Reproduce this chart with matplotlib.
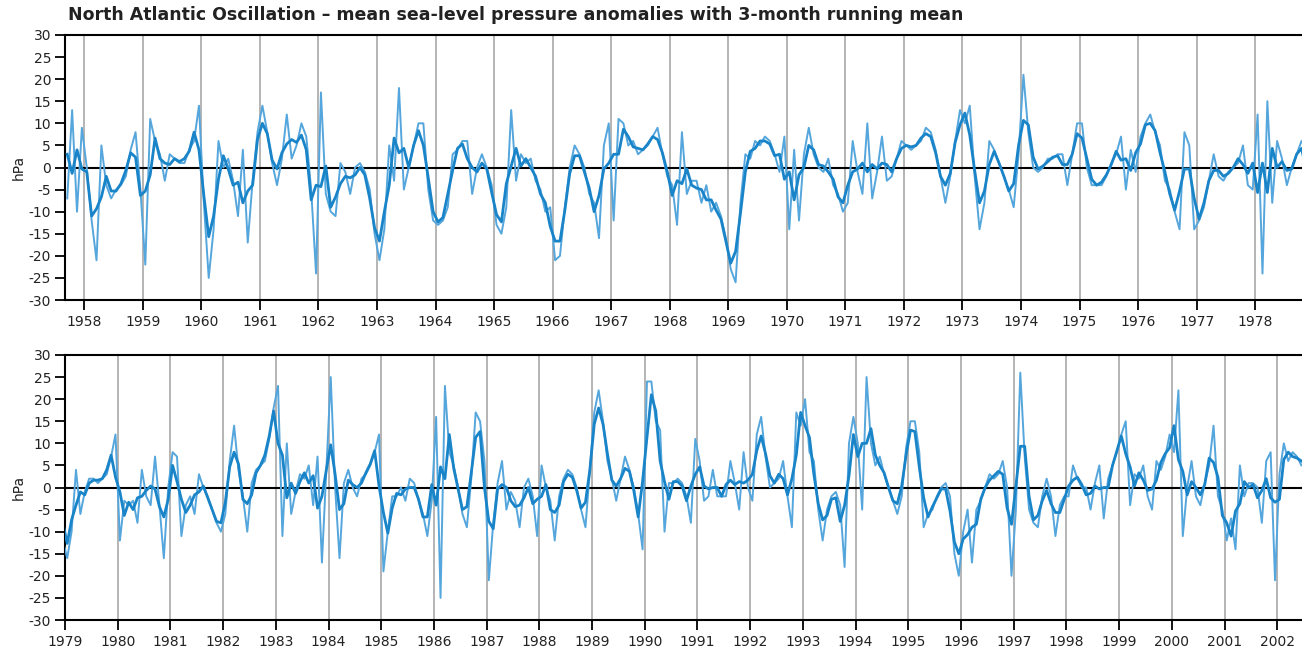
import numpy as np
import pandas as pd
import matplotlib
matplotlib.use("Agg")
import matplotlib.pyplot as plt

plt.rcParams['font.family'] = ['DejaVu Sans']
plt.rcParams['axes.unicode_minus'] = False

# Monthly NAO pressure anomalies (hPa)
# top panel: Sep 1957 .. Dec 1978, one row per year
nao_1957_1978 = [
    -7, 13, -10, 9,                                   # 1957 Sep-Dec
    0, -12, -21, 5, -4, -7, -5, -4, -2, 4, 8, -5,     # 1958
    -22, 11, 6, 3, -3, 3, 2, 1, 1, 4, 6, 14,          # 1959
    -8, -25, -14, 6, 0, 2, -3, -11, 4, -17, -3, 8,    # 1960
    14, 8, 1, -4, 2, 12, 2, 5, 10, 7, -5, -24,        # 1961
    17, -6, -10, -11, 1, -1, -6, 0, 1, -1, -5, -15,   # 1962
    -21, -14, 5, -3, 18, -5, 0, 5, 10, 10, -5, -12,   # 1963
    -13, -12, -9, 3, 4, 6, 6, -6, 0, 3, 0, -4,        # 1964
    -13, -15, -9, 13, -3, 3, 1, 2, -3, -5, -10, -9,   # 1965
    -21, -20, -9, 0, 5, 3, 0, -6, -8, -16, 5, 10,     # 1966
    -12, 11, 10, 5, 6, 3, 4, 5, 7, 9, 3, -2,          # 1967
    -4, -13, 8, -6, -3, -3, -8, -4, -10, -8, -11, -16,  # 1968
    -23, -26, -8, 3, 2, 6, 5, 7, 6, 3, -1, 7,         # 1969
    -14, 4, -12, 3, 9, 3, 0, -1, 2, -4, -6, -10,      # 1970
    -8, 6, -1, -6, 10, -7, -1, 7, -3, -2, 2, 6,       # 1971
    5, 4, 5, 6, 9, 8, 4, -2, -8, -2, 6, 13,           # 1972
    10, 14, -2, -14, -8, 6, 4, 1, -2, -5, -9, 3,      # 1973
    21, 8, 0, -1, 0, 2, 2, 3, 3, -4, 3, 10,           # 1974
    10, 0, -4, -4, -4, -2, 1, 3, 7, -5, 4, -1,        # 1975
    7, 10, 12, 8, 5, -3, -5, -10, -14, 8, 5, -14,     # 1976
    -12, -9, -3, 3, -2, -3, -1, 0, 1, 5, -4, -5,      # 1977
    12, -24, 15, -8, 6, 2, -4, 0, 3, 6, 4, -12,       # 1978
]

# bottom panel: Jan 1979 .. Jun 2002
nao_1979_2002 = [
    -16, -10, 4, -6, -1, 2, 2, 1, 2, 3, 7, 12,        # 1979
    -12, -3, -4, -3, -8, 4, -2, -4, 7, -4, -16, 0,    # 1980
    8, 7, -11, -4, -2, -6, 3, 0, -2, -5, -8, -10,     # 1981
    -6, 6, 14, 4, -2, -10, 1, 4, 5, 6, 11, 18,        # 1982
    23, -11, 10, -6, -1, 3, 2, 5, -4, 7, -17, 4,      # 1983
    25, 0, -16, 1, 4, 0, -2, 2, 3, 5, 8, 12,          # 1984
    -19, -10, -2, -2, 0, -3, 2, 1, -3, -6, -11, -3,   # 1985
    16, -25, 23, 8, 5, 0, -6, -9, 2, 17, 15, 6,       # 1986
    -21, -8, 1, 6, -5, -1, -3, -9, 0, 2, -2, -11,     # 1987
    5, 0, -3, -12, -2, 2, 4, 3, 0, -5, -9, 4,         # 1988
    17, 22, 15, 6, 2, -3, 2, 7, 4, 0, -6, -14,        # 1989
    24, 24, 15, 13, -10, 1, 1, 2, 1, -2, -8, 11,      # 1990
    6, -3, -2, 4, -2, -2, -2, 6, 1, -5, 8, 0,         # 1991
    -3, 12, 16, 7, 0, 1, 2, 6, -2, -9, 17, 14,        # 1992
    20, 8, 6, -5, -12, -5, -2, -1, -4, -18, 10, 16,   # 1993
    10, -5, 25, 10, 5, 7, 3, 0, -3, -6, -2, 9,        # 1994
    15, 15, 8, -9, -6, -5, -2, 0, 1, -2, -15, -20,    # 1995
    -10, -5, -17, -5, -3, 0, 3, 2, 3, 6, 0, -20,      # 1996
    -5, 26, 7, -5, -8, -9, -2, 2, -2, -11, -4, -2,    # 1997
    -2, 5, 2, 0, 0, -5, 1, 5, -7, 2, 5, 8,            # 1998
    12, 15, -4, 3, 2, 5, -2, -5, 6, 4, 7, 12,         # 1999
    8, 22, -11, 0, 6, -2, -4, 1, 5, 14, -2, -5,       # 2000
    -12, -7, -14, 5, -2, 1, 1, 0, -8, 6, 8, -21,      # 2001
    3, 10, 6, 8, 7, 5,                                # 2002 Jan-Jun
]

top_years = list(range(1958, 1979))
bottom_years = list(range(1979, 2003))
yticks = list(range(-30, 31, 5))

title = ("North Atlantic Oscillation \u2013 mean sea-level pressure anomalies "
         "with 3-month running mean")

# one monthly series, starting Sep 1957, plotted at mid-month
values = pd.Series(nao_1957_1978 + nao_1979_2002, dtype=float)
t = 1957 + (8 + np.arange(len(values)) + 0.5) / 12
running = values.rolling(3, center=True, min_periods=2).mean()

fig = plt.figure(figsize=(13.02, 6.57), dpi=100)
ax_top = fig.add_axes([65 / 1302, 1 - 300 / 657, 1237 / 1302, 265 / 657])
ax_bot = fig.add_axes([65 / 1302, 1 - 620 / 657, 1237 / 1302, 265 / 657])

panels = [
    (ax_top, top_years, (1957.67, 1978.80)),
    (ax_bot, bottom_years, (1979.0, 2002.47)),
]

for ax, years, xlim in panels:
    for yr in years:
        ax.axvline(yr, color='#a8a8a8', lw=1.2, zorder=1)
    ax.axhline(0, color='black', lw=1.5, zorder=2)
    ax.plot(t, values, color='#55a6dc', lw=1.4, zorder=3)
    ax.plot(t, running, color='#1a84c8', lw=2.0, zorder=4)

    ax.set_xlim(*xlim)
    ax.set_ylim(-30, 30)
    ax.set_xticks(years)
    ax.set_xticklabels([str(y) for y in years])
    ax.set_yticks(yticks)
    ax.set_ylabel('hPa', fontsize=10, color='#222222', labelpad=2)
    ax.tick_params(axis='both', direction='out', length=7, width=1.3,
                   labelsize=10, labelcolor='#222222', color='black')
    ax.tick_params(axis='x', pad=4)
    ax.tick_params(axis='y', pad=3)
    ax.spines['right'].set_visible(False)
    for side in ['top', 'bottom', 'left']:
        ax.spines[side].set_linewidth(1.5)
        ax.spines[side].set_color('black')

fig.text(68 / 1302, 1 - 15 / 657, title, fontsize=12.5, fontweight='bold',
         color='#222222', ha='left', va='center')

fig.savefig('out.png', dpi=100)
